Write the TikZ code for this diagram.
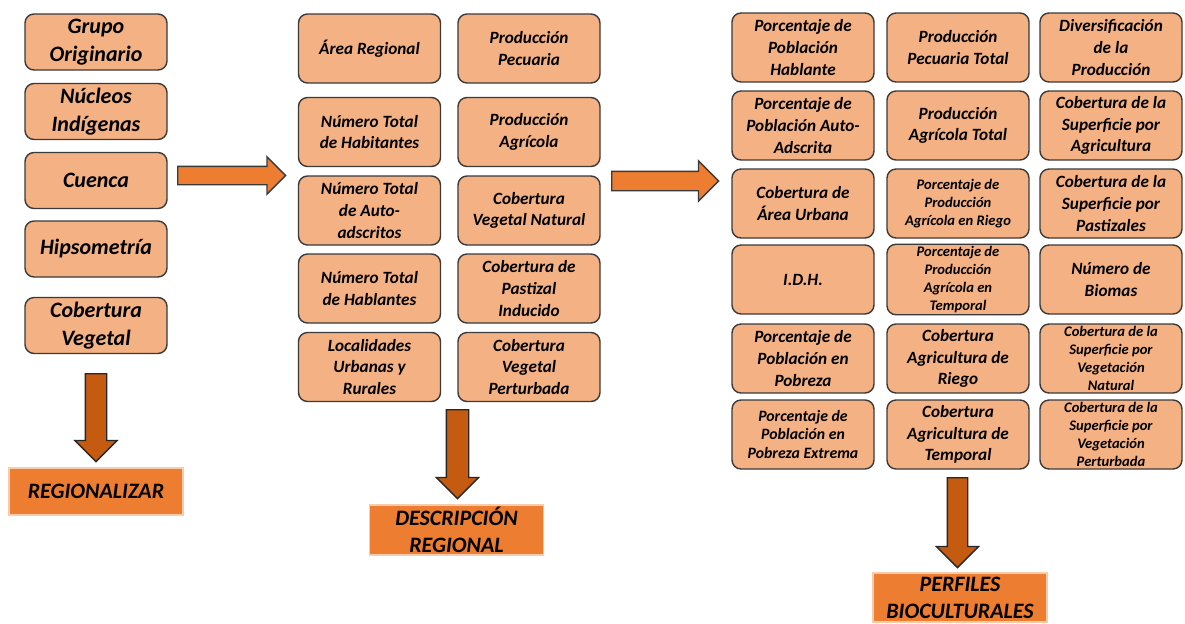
\documentclass[tikz,border=0pt]{standalone}
\usepackage{fontspec}
\setmainfont{Carlito}
\usetikzlibrary{shapes.arrows}

\definecolor{cajafondo}{HTML}{F4B183}
\definecolor{cajaborde}{HTML}{3A3A3A}
\definecolor{naranja}{HTML}{ED7D31}
\definecolor{naranjaosc}{HTML}{C55A11}
\definecolor{bordeclaro}{HTML}{F8CBAD}

\newcommand\fgrande{\fontsize{11}{14}\selectfont\bfseries\itshape}
\newcommand\fmedia{\fontsize{8.6}{10.8}\selectfont\bfseries\itshape}
\newcommand\fchica{\fontsize{7.3}{9}\selectfont\bfseries\itshape}
\newcommand\fextrema{\fontsize{7.9}{9.2}\selectfont\bfseries\itshape}
\newcommand\fetiqueta{\fontsize{11}{13.5}\selectfont\bfseries\itshape}

\tikzset{
    caja/.style={draw=cajaborde, line width=0.7pt, fill=cajafondo, rounded corners=4.5pt,
        align=center, inner sep=1pt, minimum width=71pt},
    etiqueta/.style={draw=bordeclaro, line width=0.8pt, fill=naranja, align=center,
        inner sep=1pt, minimum width=87pt, font=\fetiqueta},
    flecha/.style={single arrow, line width=0.7pt, inner xsep=0pt, text height=0pt,
        text depth=0pt, single arrow tip angle=90, anchor=tail},
    flechader/.style={flecha, draw=cajaborde, fill=naranja},
    flechaabajo/.style={flecha, draw=black!85, fill=naranjaosc, rotate=-90}
}

\begin{document}
\begin{tikzpicture}[x=0.5pt,y=-0.5pt]
    \useasboundingbox (0,0) rectangle (1185,623);

    % variables para regionalizar
    \foreach \i/\y/\texto in {1/42/{Grupo\\Originario}, 2/111.5/{Núcleos\\Indígenas},
        3/180.5/{Cuenca}, 4/249/{Hipsometría}, 5/325.5/{Cobertura\\Vegetal}} {
        \node[caja, minimum height=28pt, font=\fgrande] (a\i) at (96,\y) {\texto};
    }

    % descripcion regional
    \foreach \i/\y/\izq/\der in {1/48.5/{Área Regional}/{Producción\\Pecuaria},
        2/132/{Número Total\\de Habitantes}/{Producción\\Agrícola},
        3/210.5/{Número Total\\de Auto-\\adscritos}/{Cobertura\\Vegetal Natural},
        4/288.5/{Número Total\\de Hablantes}/{Cobertura de\\Pastizal\\Inducido},
        5/367/{Localidades\\Urbanas y\\Rurales}/{Cobertura\\Vegetal\\Perturbada}} {
        \node[caja, minimum height=34.5pt, font=\fmedia] (b\i) at (369.5,\y) {\izq};
        \node[caja, minimum height=34.5pt, font=\fmedia] (c\i) at (529,\y) {\der};
    }

    % perfiles bioculturales
    \foreach \i/\y/\fa/\fb/\fc/\ta/\tb/\tc in {
        1/47.5/\fmedia/\fmedia/\fmedia/{Porcentaje de\\Población\\Hablante}/{Producción\\Pecuaria Total}/{Diversificación\\de la\\Producción},
        2/125.5/\fmedia/\fmedia/\fmedia/{Porcentaje de\\Población Auto-\\Adscrita}/{Producción\\Agrícola Total}/{Cobertura de la\\Superficie por\\Agricultura},
        3/203.5/\fmedia/\fchica/\fmedia/{Cobertura de\\Área Urbana}/{Porcentaje de\\Producción\\Agrícola en Riego}/{Cobertura de la\\Superficie por\\Pastizales},
        4/279.5/\fmedia/\fchica/\fmedia/{I.D.H.}/{Porcentaje de\\Producción\\Agrícola en\\Temporal}/{Número de\\Biomas},
        5/358.5/\fmedia/\fmedia/\fchica/{Porcentaje de\\Población en\\Pobreza}/{Cobertura\\Agricultura de\\Riego}/{Cobertura de la\\Superficie por\\Vegetación\\Natural},
        6/434.5/\fextrema/\fmedia/\fchica/{Porcentaje de\\Población en\\Pobreza Extrema}/{Cobertura\\Agricultura de\\Temporal}/{Cobertura de la\\Superficie por\\Vegetación\\Perturbada}} {
        \node[caja, minimum height=34.5pt, font=\fa] (d\i) at (803,\y) {\ta};
        \node[caja, minimum height=34.5pt, font=\fb] (e\i) at (958,\y) {\tb};
        \node[caja, minimum height=34.5pt, font=\fc] (f\i) at (1111,\y) {\tc};
    }

    \node[etiqueta, minimum height=23.5pt] (regionalizar) at (96,491.5) {REGIONALIZAR};
    \node[etiqueta, minimum height=24pt] (descripcion) at (456.5,530) {DESCRIPCIÓN\\REGIONAL};
    \node[etiqueta, minimum height=24.5pt] (perfiles) at (960,597.5) {PERFILES\\BIOCULTURALES};

    % flechas
    \node[flechader, minimum height=54pt, inner ysep=4.25pt, single arrow head extend=4.75pt]
        (pasouno) at (177,175.5) {};
    \node[flechader, minimum height=53.5pt, inner ysep=4.5pt, single arrow head extend=5.25pt]
        (pasodos) at (611,181) {};
    \node[flechaabajo, minimum height=44pt, inner ysep=5pt, single arrow head extend=5.25pt]
        (bajauno) at (96,373) {};
    \node[flechaabajo, minimum height=44.5pt, inner ysep=5.25pt, single arrow head extend=5pt]
        (bajados) at (457.5,409) {};
    \node[flechaabajo, minimum height=45pt, inner ysep=4.75pt, single arrow head extend=5.5pt]
        (bajatres) at (957.5,477) {};
\end{tikzpicture}
\end{document}
